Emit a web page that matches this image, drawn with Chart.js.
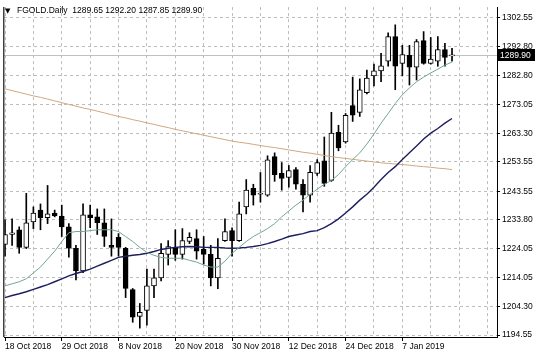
<!DOCTYPE html>
<html>
<head>
<meta charset="utf-8">
<script src="https://cdn.jsdelivr.net/npm/chart.js@4.4.1/dist/chart.umd.min.js"></script>
<style>
html,body{margin:0;padding:0;background:#fff;}
#wrap{width:536px;height:358px;position:relative;}
</style>
</head>
<body>
<div id="wrap"><canvas id="c" width="536" height="358"></canvas></div>
<script>
const symbolTitle = 'FGOLD.Daily';
const openVals  = [1225.4,1228.8,1230.4,1224.4,1233.1,1237.1,1234.5,1236.1,1235.1,1231.4,1224.1,1216.4,1235.5,1234.8,1232.8,1225.1,1227.8,1224.1,1210.0,1200.9,1202.9,1211.3,1214.0,1222.0,1224.4,1222.0,1226.4,1227.4,1223.7,1222.0,1214.0,1226.7,1230.1,1226.7,1238.2,1244.5,1242.5,1242.2,1255.3,1249.6,1248.2,1250.9,1245.9,1242.2,1249.6,1253.9,1247.2,1263.6,1260.3,1272.7,1270.4,1277.1,1282.8,1284.5,1287.8,1296.2,1287.1,1289.8,1285.8,1294.8,1287.1,1287.8,1291.8,1289.65];
const highVals  = [1233.8,1234.1,1231.4,1242.8,1238.2,1239.2,1245.5,1237.1,1238.8,1232.5,1225.1,1239.2,1238.8,1237.5,1237.5,1234.1,1229.1,1224.4,1210.4,1205.3,1217.0,1217.0,1225.7,1226.7,1230.4,1230.8,1229.4,1230.4,1228.1,1225.1,1227.4,1234.1,1231.1,1239.8,1247.5,1245.9,1249.9,1255.6,1256.6,1253.3,1252.3,1251.6,1247.5,1252.3,1254.3,1262.0,1270.4,1266.0,1270.0,1282.4,1281.8,1284.8,1286.8,1290.5,1297.5,1300.2,1293.2,1293.2,1295.2,1297.9,1295.9,1296.2,1293.9,1292.20];
const lowVals   = [1221.4,1225.1,1222.4,1224.0,1230.8,1230.4,1232.5,1234.8,1228.1,1221.1,1213.3,1215.8,1231.1,1228.8,1224.7,1221.4,1221.4,1207.3,1198.9,1196.9,1197.9,1207.3,1213.0,1218.4,1220.0,1220.4,1225.7,1220.4,1218.7,1211.3,1210.3,1226.4,1221.4,1226.4,1235.8,1238.8,1239.8,1241.8,1246.9,1243.9,1244.9,1244.2,1236.5,1239.8,1248.9,1245.2,1246.9,1257.3,1259.9,1267.3,1269.0,1276.7,1279.4,1280.8,1286.1,1278.1,1282.8,1279.7,1281.4,1286.8,1286.8,1286.1,1286.1,1287.85];
const closeVals = [1228.8,1229.4,1224.4,1232.8,1236.1,1234.5,1235.8,1235.1,1231.4,1224.1,1216.4,1235.5,1234.5,1232.8,1228.1,1224.4,1224.4,1210.4,1200.6,1202.3,1211.3,1214.0,1222.4,1224.7,1222.0,1226.7,1227.8,1223.1,1222.0,1214.0,1220.7,1229.8,1226.7,1235.8,1243.9,1242.2,1242.5,1254.2,1249.2,1247.9,1250.6,1245.9,1242.2,1250.0,1253.3,1246.2,1263.3,1258.3,1269.4,1269.4,1278.1,1282.1,1284.5,1286.2,1296.2,1286.1,1290.1,1285.8,1294.5,1287.1,1288.5,1291.8,1289.1,1289.90];
const maFast = [1211.3,1212.0,1212.7,1213.7,1215.7,1217.7,1220.4,1223.1,1226.4,1229.4,1229.8,1229.8,1230.1,1230.4,1230.4,1230.4,1229.8,1228.1,1226.4,1224.4,1222.7,1221.7,1221.0,1220.7,1220.7,1220.7,1220.0,1219.4,1218.4,1217.7,1217.7,1219.7,1222.4,1224.4,1226.4,1228.1,1229.4,1230.8,1232.5,1234.8,1236.8,1238.8,1240.5,1242.5,1244.2,1245.9,1247.2,1249.2,1251.9,1254.3,1256.6,1259.6,1263.0,1266.7,1270.0,1273.4,1276.4,1278.7,1280.8,1282.4,1283.8,1285.1,1286.5,1287.5];
const maMid = [1207.3,1208.0,1208.6,1209.3,1210.1,1210.9,1211.7,1212.7,1213.7,1214.7,1215.5,1216.2,1217.0,1218.0,1219.0,1220.0,1221.0,1221.4,1221.7,1222.0,1222.4,1223.0,1223.7,1224.1,1224.4,1224.6,1224.7,1224.6,1224.4,1224.4,1224.4,1224.2,1224.1,1224.2,1224.4,1224.7,1225.1,1225.7,1226.4,1227.2,1228.1,1228.6,1229.1,1229.8,1230.1,1231.1,1232.5,1234.1,1236.1,1238.2,1240.5,1242.5,1244.9,1247.5,1249.9,1251.9,1254.3,1256.6,1258.9,1261.3,1263.3,1264.9,1266.7,1268.3];
const maSlow = [1278.4,1277.8,1277.2,1276.6,1276.0,1275.5,1274.9,1274.3,1273.7,1273.1,1272.5,1271.9,1271.4,1270.8,1270.2,1269.6,1269.0,1268.5,1267.9,1267.4,1266.8,1266.3,1265.7,1265.2,1264.6,1264.1,1263.6,1263.1,1262.6,1262.1,1261.6,1261.1,1260.6,1260.2,1259.9,1259.5,1259.1,1258.7,1258.4,1258.0,1257.6,1257.2,1256.8,1256.5,1256.1,1255.7,1255.3,1255.0,1254.7,1254.4,1254.1,1253.8,1253.5,1253.2,1253.0,1252.8,1252.6,1252.4,1252.1,1251.9,1251.7,1251.4,1251.2,1250.9];
const xTickLabels = ['18 Oct 2018','29 Oct 2018','8 Nov 2018','20 Nov 2018','30 Nov 2018','12 Dec 2018','24 Dec 2018','7 Jan 2019'];
const yTickLabels = ['1194.55','1204.30','1214.05','1224.05','1233.80','1243.55','1253.55','1263.30','1273.05','1282.80','1292.80','1302.55'];

const FONT = {family:"'Liberation Sans', Arial, sans-serif", size:8.5};
const last = openVals.length - 1;
const toXY = arr => arr.map((v,i)=>({x:i, y:v}));
const bodies = openVals.map((o,i)=>({x:i, y:[o, closeVals[i]]}));
const wicks = lowVals.map((l,i)=>({x:i, y:[l, highVals[i]]}));

const framePlugin = {
  id:'frame',
  beforeDatasetsDraw(chart){
    const {ctx, chartArea:a, scales:{y}} = chart;
    const py = Math.round(y.getPixelForValue(closeVals[last])) + 0.5;
    ctx.save();
    ctx.strokeStyle = '#c0c0c0'; ctx.lineWidth = 1;
    ctx.beginPath(); ctx.moveTo(a.left, py); ctx.lineTo(a.right, py); ctx.stroke();
    ctx.restore();
  },
  afterDraw(chart){
    const {ctx, chartArea:a, scales:{y}} = chart;
    ctx.save();
    ctx.strokeStyle = '#404040'; ctx.lineWidth = 1.5;
    ctx.beginPath(); ctx.moveTo(a.left-0.25, a.top); ctx.lineTo(a.left-0.25, a.bottom); ctx.stroke();
    const py = Math.round(y.getPixelForValue(closeVals[last]));
    ctx.fillStyle = '#000';
    ctx.fillRect(a.right, py-6, 38, 12);
    ctx.fillStyle = '#fff';
    ctx.font = "8.5px 'Liberation Sans', Arial, sans-serif";
    ctx.textBaseline = 'middle'; ctx.textAlign = 'left';
    ctx.fillText(closeVals[last].toFixed(2), a.right+3, py+0.5);
    ctx.fillStyle = '#000';
    ctx.font = "7px 'DejaVu Sans', sans-serif";
    ctx.fillText('\u25BC', 5, 11);
    ctx.font = "8.5px 'Liberation Sans', Arial, sans-serif";
    const hdr = symbolTitle + '  ' + [openVals[last], highVals[last], lowVals[last], closeVals[last]].map(v=>v.toFixed(2)).join(' ');
    ctx.fillText(hdr, 17, 11);
    ctx.restore();
  }
};

new Chart(document.getElementById('c'), {
  type:'bar',
  data:{
    datasets:[
      {type:'line', data:toXY(maFast), borderColor:'#72a591', borderWidth:1, pointRadius:0, tension:0, order:0},
      {type:'line', data:toXY(maMid), borderColor:'#1e1e5e', borderWidth:1.4, pointRadius:0, tension:0, order:0},
      {type:'line', data:toXY(maSlow), borderColor:'#cfa880', borderWidth:1, pointRadius:0, tension:0, order:0},
      {type:'bar', data:bodies, grouped:false, barThickness:5, minBarLength:1, borderSkipped:false, borderWidth:1, borderColor:'#000',
        backgroundColor: c => (c.raw && c.raw.y[1] >= c.raw.y[0]) ? '#ffffff' : '#000000', order:1},
      {type:'bar', data:wicks, grouped:false, barThickness:1, borderWidth:0, backgroundColor:'#000', order:2}
    ]
  },
  options:{
    responsive:false, animation:false, events:[],
    layout:{padding:{left:4, top:2, right:0, bottom:0}},
    plugins:{legend:{display:false}, tooltip:{enabled:false}},
    scales:{
      x:{
        type:'linear', min:-0.141, max:69.34, offset:false,
        afterBuildTicks: s => { const t=[]; for (let v=0; v<=68; v+=4) t.push({value:v}); s.ticks = t; },
        ticks:{callback:(v,i)=> i%2===0 ? (xTickLabels[i/2]||'') : '', align:'start', maxRotation:0, autoSkip:false, padding:1, font:FONT, color:'#000'},
        grid:{color:'#bdbdbd', offset:false, tickLength:4, tickWidth:1,
          tickColor: c => (c.index%2===0 && xTickLabels[c.index/2]) ? '#000' : 'rgba(0,0,0,0)'},
        border:{display:true, color:'#000', width:1, dash:[3,3]},
        afterFit: s => { s.height = 21; }
      },
      y:{
        type:'linear', position:'right', min:1193.88, max:1306.24,
        afterBuildTicks: s => { s.ticks = yTickLabels.map(t=>({value:parseFloat(t)})); },
        ticks:{callback:(v,i)=> yTickLabels[i], autoSkip:false, padding:2, font:FONT, color:'#000'},
        grid:{color:'#bdbdbd', tickColor:'#000', tickLength:3},
        border:{display:true, color:'#000', width:1, dash:[3,3]},
        afterFit: s => { s.width = 39; }
      }
    }
  },
  plugins:[framePlugin]
});
</script>
</body>
</html>
